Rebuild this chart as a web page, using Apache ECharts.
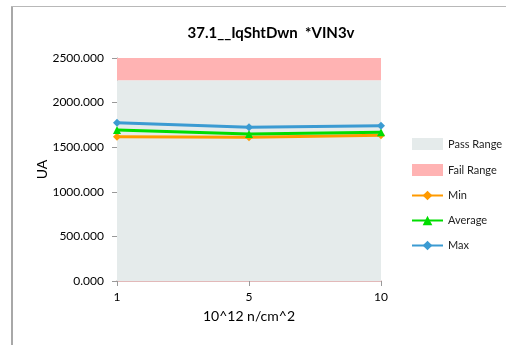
<!DOCTYPE html>
<html><head><meta charset="utf-8">
<script src="https://cdn.jsdelivr.net/npm/echarts@6/dist/echarts.min.js"></script>
<style>html,body{margin:0;padding:0;background:#fff}#c{width:506px;height:345px}</style>
</head><body><div id="c"></div>
<script>
var categories = ['1', '5', '10'];
var passRange = [2250, 2250, 2250];
var failRange = [250, 250, 250];
var minVals = [1618, 1611, 1633];
var avgVals = [1693, 1648, 1667];
var maxVals = [1775, 1723, 1741];
var yTicks = [0, 500, 1000, 1500, 2000, 2500];

var font = 'Lato, "Liberation Sans", "DejaVu Sans", sans-serif';
var chart = echarts.init(document.getElementById('c'));
function lineSeries(name, data, color, symbol) {
  return {
    name: name, type: 'line', data: data, symbol: symbol, symbolSize: 8,
    lineStyle: {color: color, width: 3}, itemStyle: {color: color}, z: 5
  };
}
chart.setOption({
  animation: false,
  textStyle: {fontFamily: font},
  title: {text: '37.1__IqShtDwn  *VIN3v', left: 266, top: 21, textAlign: 'center',
    textStyle: {fontSize: 15, fontWeight: 'bold', color: '#000', fontFamily: font}},
  graphic: [
    {type: 'line', shape: {x1: 12, y1: 6, x2: 12, y2: 345}, style: {stroke: '#a8a8a8', lineWidth: 2}},
    {type: 'line', shape: {x1: 11, y1: 6.5, x2: 506, y2: 6.5}, style: {stroke: '#b8b8b8', lineWidth: 1}}
  ],
  grid: {left: 117, right: 125, top: 58, bottom: 64},
  legend: {
    orient: 'vertical', left: 411, top: 138, padding: 0, itemGap: 14, itemWidth: 31, itemHeight: 12,
    textStyle: {fontSize: 11, color: '#222', fontFamily: font},
    data: [
      {name: 'Pass Range', icon: 'rect'},
      {name: 'Fail Range', icon: 'rect'},
      {name: 'Min'}, {name: 'Average'}, {name: 'Max'}
    ]
  },
  xAxis: {
    type: 'category', data: categories, boundaryGap: false,
    name: '10^12 n/cm^2', nameLocation: 'middle', nameGap: 28,
    nameTextStyle: {fontSize: 14, color: '#000'},
    axisLine: {lineStyle: {color: '#d9a3a3', width: 1.5}},
    axisTick: {show: true, length: 5, lineStyle: {color: '#999'}},
    axisLabel: {fontSize: 12, color: '#000', margin: 10},
    splitLine: {show: false}
  },
  yAxis: {
    type: 'value', min: yTicks[0], max: yTicks[yTicks.length - 1], interval: 500,
    name: 'UA', nameLocation: 'middle', nameGap: 68, nameRotate: 90, nameMoveOverlap: false,
    nameTextStyle: {fontSize: 14, color: '#000'},
    axisLine: {show: true, lineStyle: {color: '#999'}},
    axisTick: {show: true, length: 5, lineStyle: {color: '#999'}},
    axisLabel: {fontSize: 12, color: '#000', margin: 13, formatter: function (v) { return v.toFixed(3); }},
    splitLine: {show: false}
  },
  series: [
    {name: 'Pass Range', type: 'line', stack: 'range', data: passRange, symbol: 'none',
      lineStyle: {width: 0}, areaStyle: {color: '#e5ebeb', opacity: 1}, itemStyle: {color: '#e5ebeb'}, z: 1},
    {name: 'Fail Range', type: 'line', stack: 'range', data: failRange, symbol: 'none',
      lineStyle: {width: 0}, areaStyle: {color: '#ffb3b3', opacity: 1}, itemStyle: {color: '#ffb3b3'}, z: 1},
    lineSeries('Min', minVals, '#ff9a00', 'diamond'),
    lineSeries('Average', avgVals, '#00dd00', 'triangle'),
    lineSeries('Max', maxVals, '#3b9bd2', 'diamond')
  ]
});
</script></body></html>
